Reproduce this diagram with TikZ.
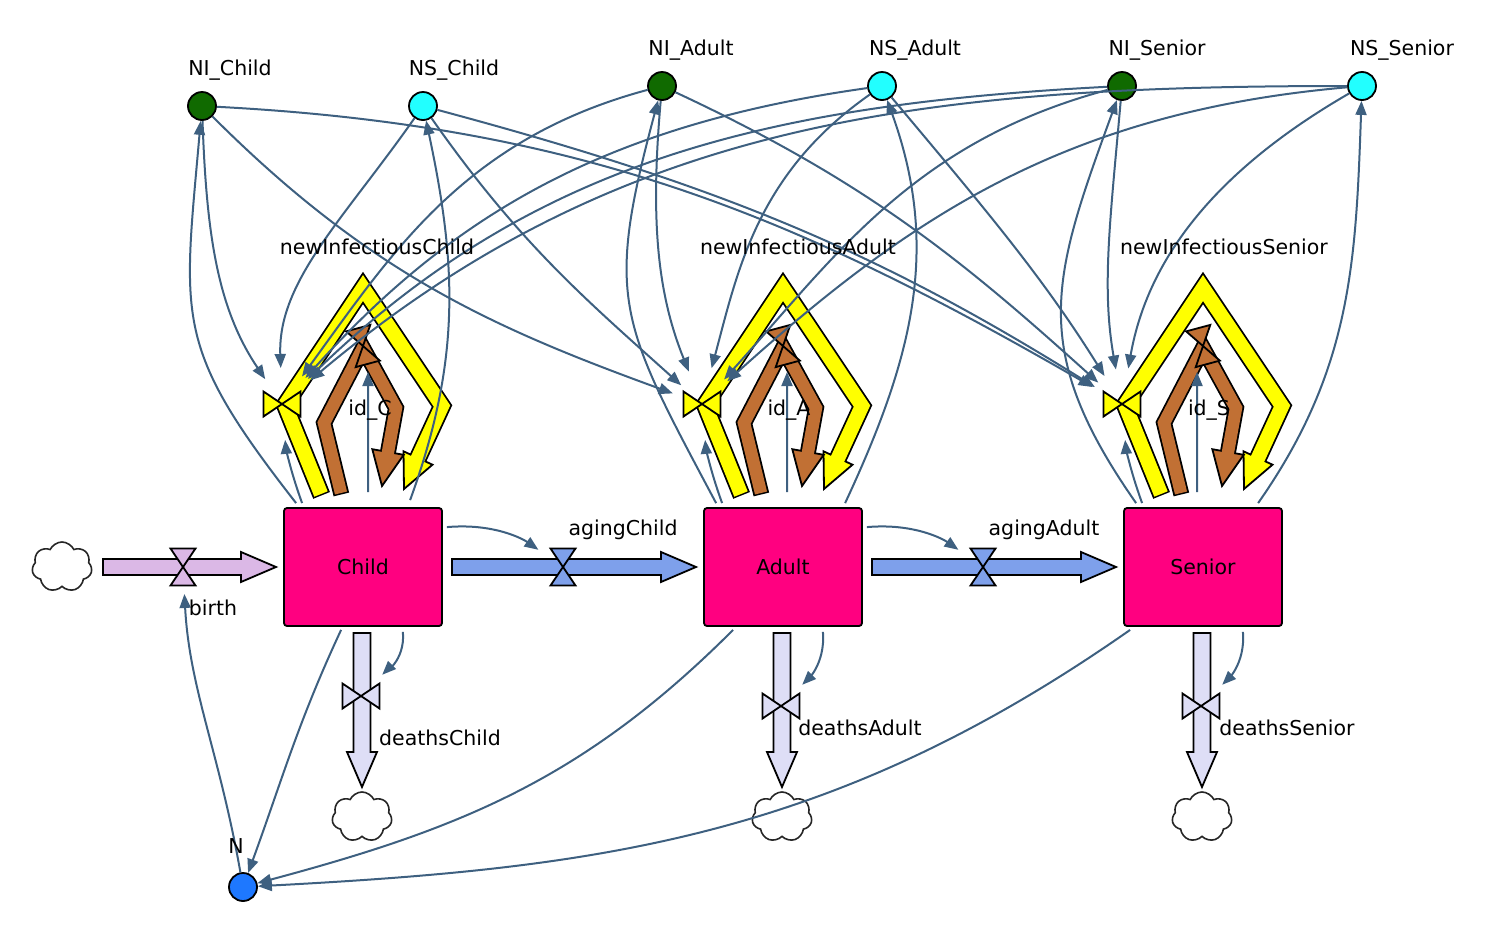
\documentclass[tikz,border=0pt]{standalone}
\usepackage{fontspec}
\setmainfont{DejaVu Sans}
\usetikzlibrary{arrows.meta,shapes.symbols}
\definecolor{stockc}{RGB}{255,0,128}
\definecolor{greenc}{RGB}{16,106,0}
\definecolor{cyanc}{RGB}{34,255,255}
\definecolor{nbluec}{RGB}{30,120,255}
\definecolor{conncol}{RGB}{62,96,128}
\definecolor{yelc}{RGB}{255,255,0}
\definecolor{brnc}{RGB}{193,112,52}
\definecolor{birthc}{RGB}{219,184,230}
\definecolor{agec}{RGB}{126,160,235}
\definecolor{deathc}{RGB}{222,222,246}
\tikzset{
 stock/.style={draw=black,line width=1.8pt,fill=stockc,rounded corners=3pt,minimum width=158pt,minimum height=118pt,inner sep=0pt,font=\fontsize{20.5}{24}\selectfont},
 aux/.style={circle,draw=black,line width=1.8pt,minimum size=28pt,inner sep=0pt},
 lbl/.style={anchor=base,inner sep=0pt,font=\fontsize{20.5}{24}\selectfont},
 conn/.style={draw=conncol,line width=2pt,-{Triangle[length=14pt,width=11pt]}},
 pipebd/.style={draw=black,line width=1.8pt,line join=miter},
 vbd/.style={draw=black,line width=1.8pt,line join=miter},
 cloudn/.style={cloud,cloud puffs=7,cloud puff arc=130,aspect=1.15,draw=black!85,line width=1.6pt,minimum width=60pt,minimum height=50pt,inner sep=0pt},
}
\newcommand{\myvalve}[3]{\begin{scope}[shift={(#1)},rotate=#3]
\draw[vbd,fill=#2] (-12.5,18.5) -- (12.5,18.5) -- (0,0) -- cycle;
\draw[vbd,fill=#2] (-12.5,-18.5) -- (12.5,-18.5) -- (0,0) -- cycle;
\end{scope}}
\newcommand{\hpipe}[4]{\draw[pipebd,fill=#4] (#1,#3+8) -- (#2-35,#3+8) -- (#2-35,#3+15) -- (#2,#3) -- (#2-35,#3-15) -- (#2-35,#3-8) -- (#1,#3-8) -- cycle;}
\newcommand{\vpipe}[4]{\draw[pipebd,fill=#4] (#1-8.5,#2) -- (#1+8.5,#2) -- (#1+8.5,#3+35) -- (#1+15,#3+35) -- (#1,#3) -- (#1-15,#3+35) -- (#1-8.5,#3+35) -- cycle;}
\begin{document}
\begin{tikzpicture}[x=1pt,y=1pt]
\useasboundingbox (0,0) rectangle (1502,-930);
% ---------- infection / recovery loops ----------
\foreach \dx/\nm in {0/C,420/A,840/S}{
 \begin{scope}[xshift=\dx]
  \coordinate (v\nm) at (282,-404);
  \coordinate (id\nm) at (363,-346);
  \draw[line width=18pt,black,line join=miter,shorten <=-1.5pt] (321,-494) -- (285,-405) -- (363,-288) -- (442,-406) -- (418,-458);
  \draw[pipebd,fill=yelc] (432.5,-464.7) -- (404,-489) -- (403.5,-451.3) -- cycle;
  \draw[line width=14.4pt,yelc,line join=miter,shorten >=-2pt] (321,-494) -- (285,-405) -- (363,-288) -- (442,-406) -- (418,-458);
  \draw[line width=16pt,black,line join=miter,shorten <=-1.5pt] (341,-493) -- (324,-423) -- (363,-348) -- (396,-408) -- (388,-452);
  \draw[pipebd,fill=brnc] (403.7,-454.8) -- (382,-486) -- (372.3,-449.2) -- cycle;
  \draw[line width=12.4pt,brnc,line join=miter,shorten >=-2pt] (341,-493) -- (324,-423) -- (363,-348) -- (396,-408) -- (388,-452);
  \myvalve{282,-404}{yelc}{90}
  \myvalve{363,-346}{brnc}{15}
 \end{scope}
}
% ---------- straight flows ----------
\hpipe{103}{276}{-567}{birthc}
\hpipe{452}{696}{-567}{agec}
\hpipe{872}{1116}{-567}{agec}
\vpipe{362}{-633}{-787}{deathc}
\vpipe{782}{-633}{-787}{deathc}
\vpipe{1202}{-633}{-787}{deathc}
\coordinate (vB) at (183,-567);
\coordinate (vAC) at (563,-567);
\coordinate (vAA) at (983,-567);
\coordinate (vDC) at (361,-696);
\coordinate (vDA) at (781,-706);
\coordinate (vDS) at (1201,-706);
\myvalve{183,-567}{birthc}{0}
\myvalve{563,-567}{agec}{0}
\myvalve{983,-567}{agec}{0}
\myvalve{361,-696}{deathc}{90}
\myvalve{781,-706}{deathc}{90}
\myvalve{1201,-706}{deathc}{90}
% ---------- stocks, auxiliaries, clouds ----------
\node[stock] (Child) at (363,-567) {Child};
\node[stock] (Adult) at (783,-567) {Adult};
\node[stock] (Senior) at (1203,-567) {Senior};
\node[aux,fill=greenc] (NIC) at (202,-106) {};
\node[aux,fill=cyanc] (NSC) at (423,-106) {};
\node[aux,fill=greenc] (NIA) at (662,-86) {};
\node[aux,fill=cyanc] (NSA) at (882,-86) {};
\node[aux,fill=greenc] (NIS) at (1122,-86) {};
\node[aux,fill=cyanc] (NSS) at (1362,-86) {};
\node[aux,fill=nbluec] (N) at (243,-887) {};
\node[cloudn] (cl0) at (62,-567) {};
\node[cloudn] (cl1) at (362,-817) {};
\node[cloudn] (cl2) at (782,-817) {};
\node[cloudn] (cl3) at (1202,-817) {};
% ---------- connectors: stocks ----------
\draw[conn] ([shift={(13,4)}]Child.north west) to[out=128,in=-95,looseness=1.3] (NIC);
\draw[conn] ([shift={(127,7)}]Child.north west) to[out=70,in=-78] (NSC);
\draw[conn,shorten >=36pt] ([shift={(19,4)}]Child.north west) to[out=110,in=-85] (vC);
\draw[conn] ([shift={(85,15)}]Child.north west) -- ([shift={(5,-26)}]idC);
\draw[conn,shorten >=30pt] ([shift={(4,-20)}]Child.north east) to[out=5,in=145] (vAC);
\draw[conn,shorten >=30pt] ([shift={(-40,-5)}]Child.south east) to[out=-85,in=45] (vDC);
\draw[conn] ([shift={(58,-3)}]Child.south west) to[out=-115,in=70] (N);
\draw[conn] ([shift={(13,4)}]Adult.north west) to[out=118,in=-105,looseness=1.3] (NIA);
\draw[conn] ([shift={(142,4)}]Adult.north west) to[out=65,in=-70] (NSA);
\draw[conn,shorten >=36pt] ([shift={(19,4)}]Adult.north west) to[out=110,in=-85] (vA);
\draw[conn] ([shift={(84,15)}]Adult.north west) -- ([shift={(4,-26)}]idA);
\draw[conn,shorten >=30pt] ([shift={(4,-20)}]Adult.north east) to[out=5,in=145] (vAA);
\draw[conn,shorten >=30pt] ([shift={(-40,-5)}]Adult.south east) to[out=-85,in=45] (vDA);
\draw[conn] ([shift={(30,-3)}]Adult.south west) to[out=-135,in=15] (N);
\draw[conn] ([shift={(13,4)}]Senior.north west) to[out=125,in=-110,looseness=1.2] (NIS);
\draw[conn] ([shift={(135,4)}]Senior.north west) to[out=55,in=-92] (NSS);
\draw[conn,shorten >=36pt] ([shift={(19,4)}]Senior.north west) to[out=110,in=-85] (vS);
\draw[conn] ([shift={(74,15)}]Senior.north west) -- ([shift={(-6,-26)}]idS);
\draw[conn,shorten >=30pt] ([shift={(-40,-5)}]Senior.south east) to[out=-85,in=45] (vDS);
\draw[conn] ([shift={(7,-3)}]Senior.south west) .. controls (834,-837) and (603.5,-868) .. (N);
\draw[conn,shorten >=27pt] (N) to[out=100,in=-87] (vB);
% ---------- connectors: auxiliaries to infection valves ----------
\draw[conn,shorten >=30pt] (NIC) to[out=-88,in=124] (vC);
\draw[conn,shorten >=36pt] (NSC) to[out=-125,in=92] (vC);
\draw[conn,shorten >=34pt] (NIA) to[out=195,in=54] (vC);
\draw[conn,shorten >=35pt] (NSA) to[out=188,in=48] (vC);
\draw[conn,shorten >=36pt] (NIS) .. controls (770.5,-104.4) and (535,-159.5) .. (vC);
\draw[conn,shorten >=37pt] (NSS) .. controls (921,-86) and (620,-120.5) .. (vC);
\draw[conn,shorten >=31pt] (NIC) to[out=-45,in=160] (vA);
\draw[conn,shorten >=28pt] (NSC) to[out=-55,in=138] (vA);
\draw[conn,shorten >=35pt] (NIA) to[out=-95,in=112] (vA);
\draw[conn,shorten >=37pt] (NSA) to[out=215,in=75] (vA);
\draw[conn,shorten >=33pt] (NIS) to[out=195,in=48] (vA);
\draw[conn,shorten >=34pt] (NSS) to[out=185,in=42] (vA);
\draw[conn,shorten >=34pt] (NIC) .. controls (580,-125.8) and (794,-214.7) .. (vS);
\draw[conn,shorten >=32pt] (NSC) to[out=-15,in=148] (vS);
\draw[conn,shorten >=32pt] (NIA) to[out=-25,in=138] (vS);
\draw[conn,shorten >=33pt] (NSA) to[out=-50,in=122] (vS);
\draw[conn,shorten >=35pt] (NIS) to[out=-95,in=100] (vS);
\draw[conn,shorten >=36pt] (NSS) to[out=210,in=80] (vS);
% ---------- labels ----------
\node[lbl] (tNIC) at (230,-75) {NI\_Child};
\node[lbl] (tNSC) at (454,-75) {NS\_Child};
\node[lbl] (tNIA) at (691,-55) {NI\_Adult};
\node[lbl] (tNSA) at (915,-55) {NS\_Adult};
\node[lbl] (tNIS) at (1157,-55) {NI\_Senior};
\node[lbl] (tNSS) at (1402,-55) {NS\_Senior};
\node[lbl] (tN) at (236,-853) {N};
\node[lbl] (tbirth) at (213,-615) {birth};
\node[lbl] (tagC) at (623,-535) {agingChild};
\node[lbl] (tagA) at (1044,-535) {agingAdult};
\node[lbl] (tdC) at (440,-745) {deathsChild};
\node[lbl] (tdA) at (860,-735) {deathsAdult};
\node[lbl] (tdS) at (1287,-735) {deathsSenior};
\node[lbl] (tnC) at (377,-254) {newInfectiousChild};
\node[lbl] (tnA) at (798,-254) {newInfectiousAdult};
\node[lbl] (tnS) at (1224,-254) {newInfectiousSenior};
\node[lbl] (tiC) at (370,-415) {id\_C};
\node[lbl] (tiA) at (789,-415) {id\_A};
\node[lbl] (tiS) at (1209,-415) {id\_S};
\end{tikzpicture}
\end{document}
